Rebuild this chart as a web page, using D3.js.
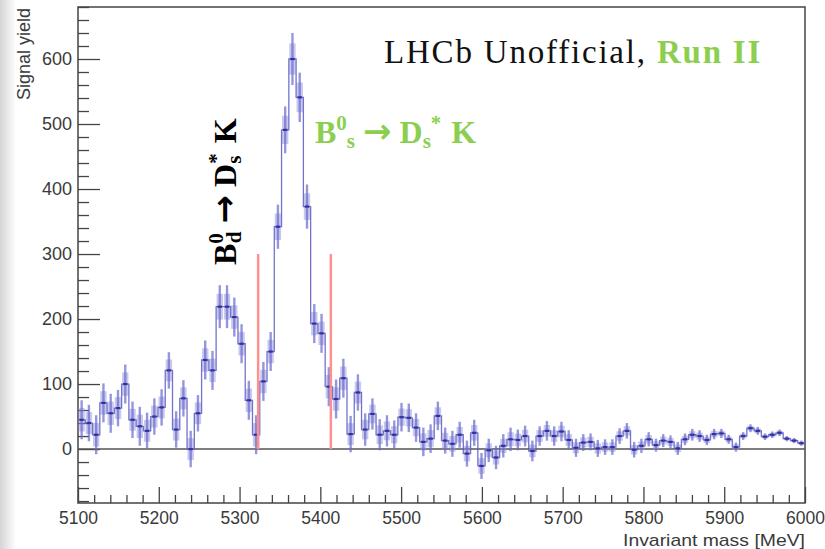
<!DOCTYPE html>
<html>
<head>
<meta charset="utf-8">
<script src="https://cdn.jsdelivr.net/npm/d3@7"></script>
<style>
  body { margin: 0; background: #fff; }
  svg { display: block; }
</style>
</head>
<body>
<svg id="chart" width="825" height="549"></svg>
<script>
// Histogram binning: 100 bins of 9 MeV from 5100 to 6000 MeV
const massLow = 5100;
const massHigh = 6000;
const binWidth = 9;

// Signal yield per bin
const yields = [
  45, 40, 22, 71, 55, 63, 100, 45, 35, 28,
  50, 64, 121, 30, 78, 0, 55, 137, 121, 219,
  219, 203, 162, 75, 22, 104, 150, 342, 491, 600,
  541, 373, 193, 178, 96, 77, 109, 23, 87, 30,
  54, 22, 28, 22, 49, 48, 33, 11, 16, 51,
  13, 8, 22, -7, 25, -26, -2, -13, 5, 15,
  14, 20, -3, 20, 28, 20, 27, 14, 2, 10,
  11, 1, 3, 3, 20, 28, -1, 5, 15, 6,
  13, 11, 1, 15, 22, 20, 14, 23, 24, 15,
  3, 20, 32, 28, 19, 22, 25, 16, 13, 9
];

// Uncertainty per bin
const errors = [
  30, 28, 30, 30, 30, 28, 30, 28, 30, 28,
  28, 28, 28, 28, 28, 28, 28, 30, 30, 33,
  33, 30, 30, 30, 30, 30, 30, 34, 36, 40,
  38, 34, 30, 30, 30, 30, 30, 28, 28, 25,
  24, 24, 24, 22, 22, 22, 22, 22, 22, 22,
  20, 20, 20, 20, 20, 20, 18, 18, 18, 18,
  16, 16, 16, 15, 15, 15, 15, 15, 14, 13,
  13, 13, 12, 12, 12, 12, 12, 11, 11, 10,
  10, 10, 10, 9, 9, 9, 8, 8, 7, 7,
  7, 6, 6, 6, 5, 5, 5, 4, 4, 4
];

// Axis ticks and labels
const xMajorTicks = [5100, 5200, 5300, 5400, 5500, 5600, 5700, 5800, 5900, 6000];
const yMajorTicks = [0, 100, 200, 300, 400, 500, 600];
const xTitle = "Invariant mass [MeV]";
const yTitle = "Signal yield";

// Mass window markers around the B0s peak
const windowEdges = [5323, 5413];
const windowTop = 300;

const svg = d3.select("#chart");

// soft grey strip along the left edge
const defs = svg.append("defs");
const grad = defs.append("linearGradient").attr("id", "edge").attr("x1", 0).attr("x2", 1).attr("y1", 0).attr("y2", 0);
grad.append("stop").attr("offset", 0).attr("stop-color", "#d4d4d4");
grad.append("stop").attr("offset", 1).attr("stop-color", "#ffffff");
svg.append("rect").attr("x", 0).attr("y", 0).attr("width", 16).attr("height", 549).attr("fill", "url(#edge)");

const x = d3.scaleLinear().domain([massLow, massHigh]).range([78, 805]);
const y = d3.scaleLinear().domain([-83, 680]).range([503, 7]);

const axisColor = "#444";
const labelFont = "'Liberation Sans', Arial, Helvetica, sans-serif";

// minor tick positions every 20 units
const xMinor = d3.range(massLow, massHigh + 1, 20).filter(v => v % 100 !== 0);
const yMinor = d3.range(-80, 681, 20).filter(v => v % 100 !== 0 && v <= 680);

// Y axis (ticks pointing into the frame)
const gy = svg.append("g").attr("transform", `translate(${x(massLow)},0)`);
gy.call(d3.axisLeft(y).tickValues(yMajorTicks).tickSize(-22).tickSizeOuter(0).tickPadding(6).tickFormat(d3.format("d")));
const gyMinor = svg.append("g").attr("transform", `translate(${x(massLow)},0)`);
gyMinor.call(d3.axisLeft(y).tickValues(yMinor).tickSize(-11).tickSizeOuter(0).tickFormat(""));

// X axis
const gx = svg.append("g").attr("transform", `translate(0,${y.range()[0]})`);
gx.call(d3.axisBottom(x).tickValues(xMajorTicks).tickSize(-16).tickSizeOuter(0).tickPadding(9).tickFormat(d3.format("d")));
const gxMinor = svg.append("g").attr("transform", `translate(0,${y.range()[0]})`);
gxMinor.call(d3.axisBottom(x).tickValues(xMinor).tickSize(-8).tickSizeOuter(0).tickFormat(""));

[gy, gyMinor, gx, gxMinor].forEach(g => {
  g.select(".domain").remove();
  g.selectAll(".tick line").attr("stroke", axisColor).attr("stroke-width", 1.3);
  g.selectAll(".tick text").attr("fill", "#3a3a3a").style("font-family", labelFont).style("font-size", "18px");
});
gx.selectAll(".tick text").style("font-size", "17.5px");

// frame
svg.append("rect")
  .attr("x", x(massLow)).attr("y", y.range()[1])
  .attr("width", x(massHigh) - x(massLow)).attr("height", y.range()[0] - y.range()[1])
  .attr("fill", "none").attr("stroke", axisColor).attr("stroke-width", 1.5);

// zero line
svg.append("line")
  .attr("x1", x(massLow)).attr("x2", x(massHigh))
  .attr("y1", y(0)).attr("y2", y(0))
  .attr("stroke", "#555").attr("stroke-width", 1.6);

// axis titles
svg.append("text")
  .attr("x", x(massHigh)).attr("y", 545.5)
  .attr("text-anchor", "end")
  .attr("textLength", 182).attr("lengthAdjust", "spacingAndGlyphs")
  .attr("fill", "#3a3a3a")
  .style("font-family", labelFont).style("font-size", "17px")
  .text(xTitle);

svg.append("text")
  .attr("transform", "translate(30,8) rotate(-90)")
  .attr("text-anchor", "end")
  .attr("fill", "#3a3a3a")
  .style("font-family", labelFont).style("font-size", "18px")
  .text(yTitle);

// histogram
const bins = yields.map((v, i) => ({
  lo: massLow + i * binWidth,
  hi: massLow + (i + 1) * binWidth,
  v: v,
  e: errors[i]
}));

const plot = svg.append("g");
const inset = 0.06;

// uncertainty boxes
plot.selectAll("rect.box").data(bins).join("rect")
  .attr("class", "box")
  .attr("x", d => x(d.lo + inset * binWidth))
  .attr("width", d => x(d.hi - inset * binWidth) - x(d.lo + inset * binWidth))
  .attr("y", d => y(d.v + 0.6 * d.e))
  .attr("height", d => y(d.v - 0.6 * d.e) - y(d.v + 0.6 * d.e))
  .attr("fill", "#9494dc").attr("fill-opacity", 0.5);

// error bars
plot.selectAll("line.err").data(bins).join("line")
  .attr("class", "err")
  .attr("x1", d => x((d.lo + d.hi) / 2)).attr("x2", d => x((d.lo + d.hi) / 2))
  .attr("y1", d => y(d.v + d.e)).attr("y2", d => y(d.v - d.e))
  .attr("stroke", "#6a6ad0").attr("stroke-opacity", 0.7).attr("stroke-width", 2.4);

// histogram outline
const outline = [];
bins.forEach(d => { outline.push([d.lo, d.v]); outline.push([d.hi, d.v]); });
plot.append("path")
  .attr("d", d3.line().x(p => x(p[0])).y(p => y(p[1]))(outline))
  .attr("fill", "none").attr("stroke", "#5a5ac6").attr("stroke-width", 1.3).attr("stroke-opacity", 0.85);

// central values
plot.selectAll("line.val").data(bins).join("line")
  .attr("class", "val")
  .attr("x1", d => x(d.lo + 0.2 * binWidth)).attr("x2", d => x(d.hi - 0.2 * binWidth))
  .attr("y1", d => y(d.v)).attr("y2", d => y(d.v))
  .attr("stroke", "#32329e").attr("stroke-width", 2.2);

// mass window lines
svg.selectAll("line.window").data(windowEdges).join("line")
  .attr("class", "window")
  .attr("x1", d => x(d)).attr("x2", d => x(d))
  .attr("y1", y(0)).attr("y2", y(windowTop))
  .attr("stroke", "#ff9090").attr("stroke-width", 2.5);

// annotations
const serif = "'Liberation Serif', 'Times New Roman', Times, serif";
const arrowFont = "'DejaVu Sans', sans-serif";
const green = "#8ccf50";

const lhcb = svg.append("text")
  .attr("x", 384).attr("y", 63)
  .style("font-family", serif).style("font-size", "33px").style("letter-spacing", "1.8px");
lhcb.append("tspan").attr("fill", "#111").text("LHCb Unofficial, ");
lhcb.append("tspan").attr("fill", green).attr("font-weight", "bold").text("Run II");

function decayLabel(sel, sub1, stacked) {
  sel.append("tspan").text("B");
  sel.append("tspan").attr("dy", -13).style("font-size", "21px").text("0");
  sel.append("tspan").attr("dy", 18).attr("dx", stacked ? -10 : 0).style("font-size", "21px").text(sub1);
  sel.append("tspan").attr("dy", -5).attr("dx", 8).style("font-family", arrowFont).style("font-size", "34px").text("\u2192");
  sel.append("tspan").attr("dx", 8).text("D");
  sel.append("tspan").attr("dy", 5).style("font-size", "21px").text("s");
  sel.append("tspan").attr("dy", -18).attr("dx", stacked ? -8 : 0).style("font-size", "21px").text("*");
  sel.append("tspan").attr("dy", 13).attr("dx", 2).text(" K");
}

const bs = svg.append("text")
  .attr("x", 315).attr("y", 143)
  .attr("fill", green).attr("font-weight", "bold")
  .style("font-family", serif).style("font-size", "32px");
decayLabel(bs, "s", false);

const bd = svg.append("text")
  .attr("transform", "translate(236,265) rotate(-90)")
  .attr("fill", "#000").attr("font-weight", "bold")
  .style("font-family", serif).style("font-size", "32px");
decayLabel(bd, "d", true);
</script>
</body>
</html>
